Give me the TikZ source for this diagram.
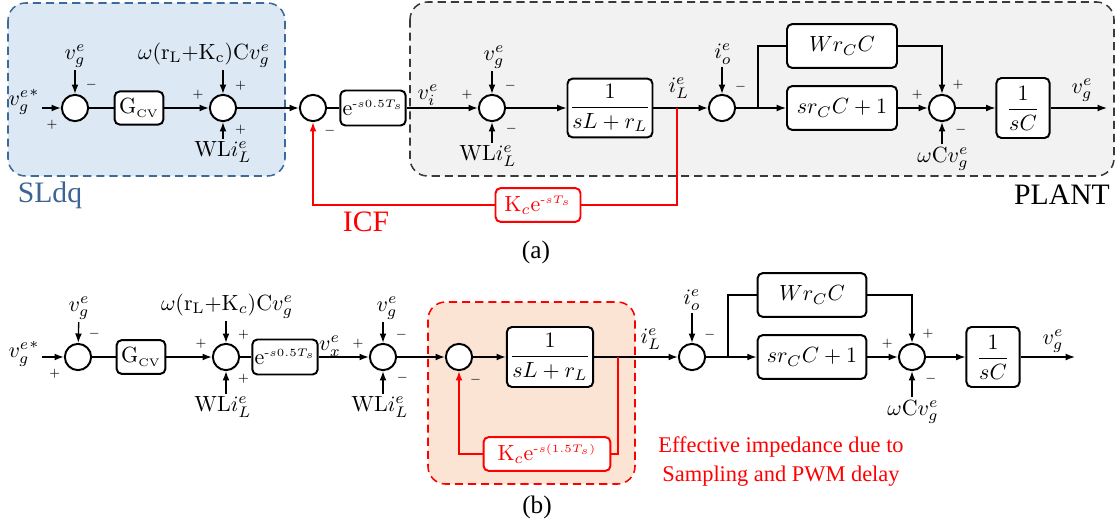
\documentclass[tikz,border=0pt]{standalone}
\usepackage{amsmath}
\usepackage{fontspec}
\newfontfamily\timesfont{Liberation Serif}[Ligatures=TeX]
\usetikzlibrary{arrows.meta,positioning}
\definecolor{sdqfill}{HTML}{DDE8F5}
\definecolor{sdqedge}{HTML}{3E6A99}
\definecolor{sdqtext}{HTML}{3C6595}
\definecolor{plantfill}{HTML}{F2F2F2}
\definecolor{plantedge}{HTML}{3A3A3A}
\definecolor{effpeach}{HTML}{FBE4D3}
\definecolor{icfred}{HTML}{FF0000}
\tikzset{
  sumnode/.style={circle, draw, line width=0.9pt, fill=white, minimum size=4.2mm, inner sep=0pt},
  blk/.style={draw, line width=0.9pt, rounded corners=2.3pt, fill=white, inner sep=1pt},
  redblk/.style={blk, draw=icfred, text=icfred},
  lbl/.style={inner sep=1pt},
  sgn/.style={font=\tiny, inner sep=0.3pt, label distance=0.9mm},
  line/.style={line width=0.6pt},
  arr/.style={-{Latex[length=1.5mm,width=1.1mm]}, line width=0.6pt},
  redline/.style={line width=0.7pt, draw=icfred},
  redarr/.style={arr, line width=0.7pt, draw=icfred},
  region/.style={dash pattern=on 1.3mm off 0.8mm, line width=0.7pt, rounded corners=2.8mm},
  title/.style={font=\timesfont\fontsize{13.5}{16}\selectfont, inner sep=1pt},
  capt/.style={font=\timesfont\fontsize{11.5}{14}\selectfont, inner sep=1pt},
  efftext/.style={font=\timesfont\fontsize{10.2}{13.2}\selectfont, text=icfred, align=center, inner sep=1pt}
}
\newcommand{\dly}[1]{\mathrm{e}^{\scriptscriptstyle\text{-}#1}}

\begin{document}
\begin{tikzpicture}[x=0.16mm, y=-0.16mm]
    \useasboundingbox (0,0) rectangle (1117,525);
    % (a) backgrounds
    \draw[region, draw=sdqedge, fill=sdqfill] (8,3) rectangle (285,176);
    \draw[region, draw=plantedge, fill=plantfill] (410,2) rectangle (1114,176);
    \node[title, text=sdqtext] (sldq) at (50,195) {SLdq};
    \node[title] (plant) at (1062,195) {PLANT};
    % (a) blocks
    \node[lbl] (a0) at (24,102) {${v_g^{e}}^{*}$};
    \node[sumnode, label={[sgn]214:$+$}, label={[sgn]62:$-$}] (sa1) at (75,108) {};
    \node[lbl] (a1t) at (75,56) {$v_g^e$};
    \node[blk, minimum width=7.8mm, minimum height=5.3mm] (gcva) at (139,108) {$\mathrm{G}_{\scriptscriptstyle\mathrm{CV}}$};
    \node[sumnode, label={[sgn]158:$+$}, label={[sgn]57:$+$}, label={[sgn]-57:$+$}] (sa2) at (223,108) {};
    \node[lbl] (a2t) at (204,55) {$\omega(\mathrm{r_L}{+}\mathrm{K_c})\mathrm{C}v_g^e$};
    \node[lbl] (a2b) at (223,152) {$\mathrm{WL}i_L^e$};
    \node[sumnode, label={[sgn]-60:$-$}] (sa3) at (313,108) {};
    \node[blk, minimum width=9.9mm, minimum height=5.6mm] (dla) at (373,108) {$\dly{s0.5T_s}$};
    \node[lbl] (via) at (428,95) {$v_i^e$};
    \node[sumnode, label={[sgn]157:$+$}, label={[sgn]55:$-$}, label={[sgn]-52:$-$}] (sa4) at (492,108) {};
    \node[lbl] (a4t) at (494,57) {$v_g^e$};
    \node[lbl] (a4b) at (488,156) {$\mathrm{WL}i_L^e$};
    \node[blk, minimum width=13.6mm, minimum height=9.4mm] (zla) at (610,108) {$\dfrac{1}{sL+r_L}$};
    \node[lbl] (ila) at (679,88) {$i_L^e$};
    \coordinate (tapa) at (677,108);
    \node[sumnode, label={[sgn]54:$-$}] (sa5) at (722,108) {};
    \node[lbl] (ioa) at (723,54) {$i_o^e$};
    \coordinate (bra) at (758,108);
    \node[blk, minimum width=17.6mm, minimum height=7mm] (wrca) at (842,46) {$Wr_CC$};
    \node[blk, minimum width=17.6mm, minimum height=7mm] (srca) at (842,108) {$sr_CC+1$};
    \node[sumnode, label={[sgn]156:$+$}, label={[sgn]62:$+$}, label={[sgn]-53:$-$}] (sa6) at (942,108) {};
    \node[lbl] (a6b) at (943,159) {$\omega\mathrm{C}v_g^e$};
    \node[blk, minimum width=8.5mm, minimum height=9.6mm] (sca) at (1023,108) {$\dfrac{1}{sC}$};
    \coordinate (outa) at (1107,108);
    \node[lbl] (vga) at (1082,90) {$v_g^e$};
    \node[redblk, minimum width=13.6mm, minimum height=5.4mm] (kca) at (538,205) {$\mathrm{K}_c\dly{sT_s}$};
    \node[title, text=icfred] (icf) at (366,222) {ICF};
    \node[capt] (capa) at (536,252) {(a)};
    % (a) connectors
    \draw[arr] (a0.east |- sa1) -- (sa1);
    \draw[arr] (a1t) -- (sa1);
    \draw[line] (sa1) -- (gcva);
    \draw[arr] (gcva) -- (sa2);
    \draw[arr] (sa2 |- a2t.south) -- (sa2);
    \draw[arr] (a2b) -- (sa2);
    \draw[arr] (sa2) -- (sa3);
    \draw[line] (sa3) -- (dla);
    \draw[arr] (dla) -- (sa4);
    \draw[arr] (sa4 |- a4t.south) -- (sa4);
    \draw[arr] (sa4 |- a4b.north) -- (sa4);
    \draw[arr] (sa4) -- (zla);
    \draw[arr] (zla) -- (sa5);
    \draw[arr] (sa5 |- ioa.south) -- (sa5);
    \draw[line] (sa5) -- (bra) |- (wrca);
    \draw[arr] (bra) -- (srca);
    \draw[arr] (wrca) -| (sa6);
    \draw[arr] (srca) -- (sa6);
    \draw[arr] (sa6 |- a6b.north) -- (sa6);
    \draw[arr] (sa6) -- (sca);
    \draw[arr] (sca) -- (outa);
    \draw[redline] (tapa) |- (kca);
    \draw[redarr] (kca) -| (sa3);

    % (b) background
    \draw[region, draw=icfred, fill=effpeach] (428,302) rectangle (635,484);
    % (b) blocks
    \node[lbl] (b0) at (24,354) {${v_g^{e}}^{*}$};
    \node[sumnode, label={[sgn]214:$+$}, label={[sgn]62:$-$}] (sb1) at (78,357) {};
    \node[lbl] (b1t) at (79,308) {$v_g^e$};
    \node[blk, minimum width=7.8mm, minimum height=5.4mm] (gcvb) at (141,357) {$\mathrm{G}_{\scriptscriptstyle\mathrm{CV}}$};
    \node[sumnode, label={[sgn]158:$+$}, label={[sgn]57:$+$}, label={[sgn]-57:$+$}] (sb2) at (226,357) {};
    \node[lbl] (b2t) at (227,306) {$\omega(\mathrm{r_L}{+}\mathrm{K}_c)\mathrm{C}v_g^e$};
    \node[lbl] (b2b) at (223,407) {$\mathrm{WL}i_L^e$};
    \node[blk, minimum width=9.1mm, minimum height=5.6mm] (dlb) at (285,357) {$\dly{s0.5T_s}$};
    \node[lbl] (vxb) at (330,346) {$v_x^e$};
    \node[sumnode, label={[sgn]157:$+$}, label={[sgn]55:$-$}, label={[sgn]-52:$-$}] (sb3) at (383,357) {};
    \node[lbl] (b3t) at (387,308) {$v_g^e$};
    \node[lbl] (b3b) at (380,407) {$\mathrm{WL}i_L^e$};
    \node[sumnode, label={[sgn]-61:$-$}] (sb4) at (459,357) {};
    \node[blk, minimum width=13.8mm, minimum height=9.6mm] (zlb) at (550,357) {$\dfrac{1}{sL+r_L}$};
    \node[lbl] (ilb) at (651,339) {$i_L^e$};
    \coordinate (tapb) at (618,357);
    \node[redblk, minimum width=20.3mm, minimum height=5.4mm] (kcb) at (547,454) {$\mathrm{K}_c\dly{s(1.5T_s)}$};
    \node[sumnode, label={[sgn]57:$-$}] (sb5) at (692,357) {};
    \node[lbl] (iob) at (692,300) {$i_o^e$};
    \coordinate (brb) at (728,357);
    \node[blk, minimum width=17.4mm, minimum height=7mm] (wrcb) at (812,295) {$Wr_CC$};
    \node[blk, minimum width=17.4mm, minimum height=7mm] (srcb) at (812,357) {$sr_CC+1$};
    \node[sumnode, label={[sgn]156:$+$}, label={[sgn]62:$+$}, label={[sgn]-53:$-$}] (sb6) at (912,357) {};
    \node[lbl] (b6b) at (913,412) {$\omega\mathrm{C}v_g^e$};
    \node[blk, minimum width=8.5mm, minimum height=9.6mm] (scb) at (993,357) {$\dfrac{1}{sC}$};
    \coordinate (outb) at (1075,357);
    \node[lbl] (vgb) at (1053,341) {$v_g^e$};
    \node[efftext] (effnote) at (781,462) {Effective impedance due to\\Sampling and PWM delay};
    \node[capt] (capb) at (537,507) {(b)};
    % (b) connectors
    \draw[arr] (b0.east |- sb1) -- (sb1);
    \draw[arr] (b1t) -- (sb1);
    \draw[line] (sb1) -- (gcvb);
    \draw[arr] (gcvb) -- (sb2);
    \draw[arr] (sb2 |- b2t.south) -- (sb2);
    \draw[arr] (sb2 |- b2b.north) -- (sb2);
    \draw[line] (sb2) -- (dlb);
    \draw[arr] (dlb) -- (sb3);
    \draw[arr] (sb3 |- b3t.south) -- (sb3);
    \draw[arr] (sb3 |- b3b.north) -- (sb3);
    \draw[arr] (sb3) -- (sb4);
    \draw[arr] (sb4) -- (zlb);
    \draw[arr] (zlb) -- (sb5);
    \draw[arr] (iob) -- (sb5);
    \draw[line] (sb5) -- (brb) |- (wrcb);
    \draw[arr] (brb) -- (srcb);
    \draw[arr] (wrcb) -| (sb6);
    \draw[arr] (srcb) -- (sb6);
    \draw[arr] (sb6 |- b6b.north) -- (sb6);
    \draw[arr] (sb6) -- (scb);
    \draw[arr] (scb) -- (outb);
    \draw[redline] (tapb) |- (kcb);
    \draw[redarr] (kcb) -| (sb4);
\end{tikzpicture}
\end{document}
